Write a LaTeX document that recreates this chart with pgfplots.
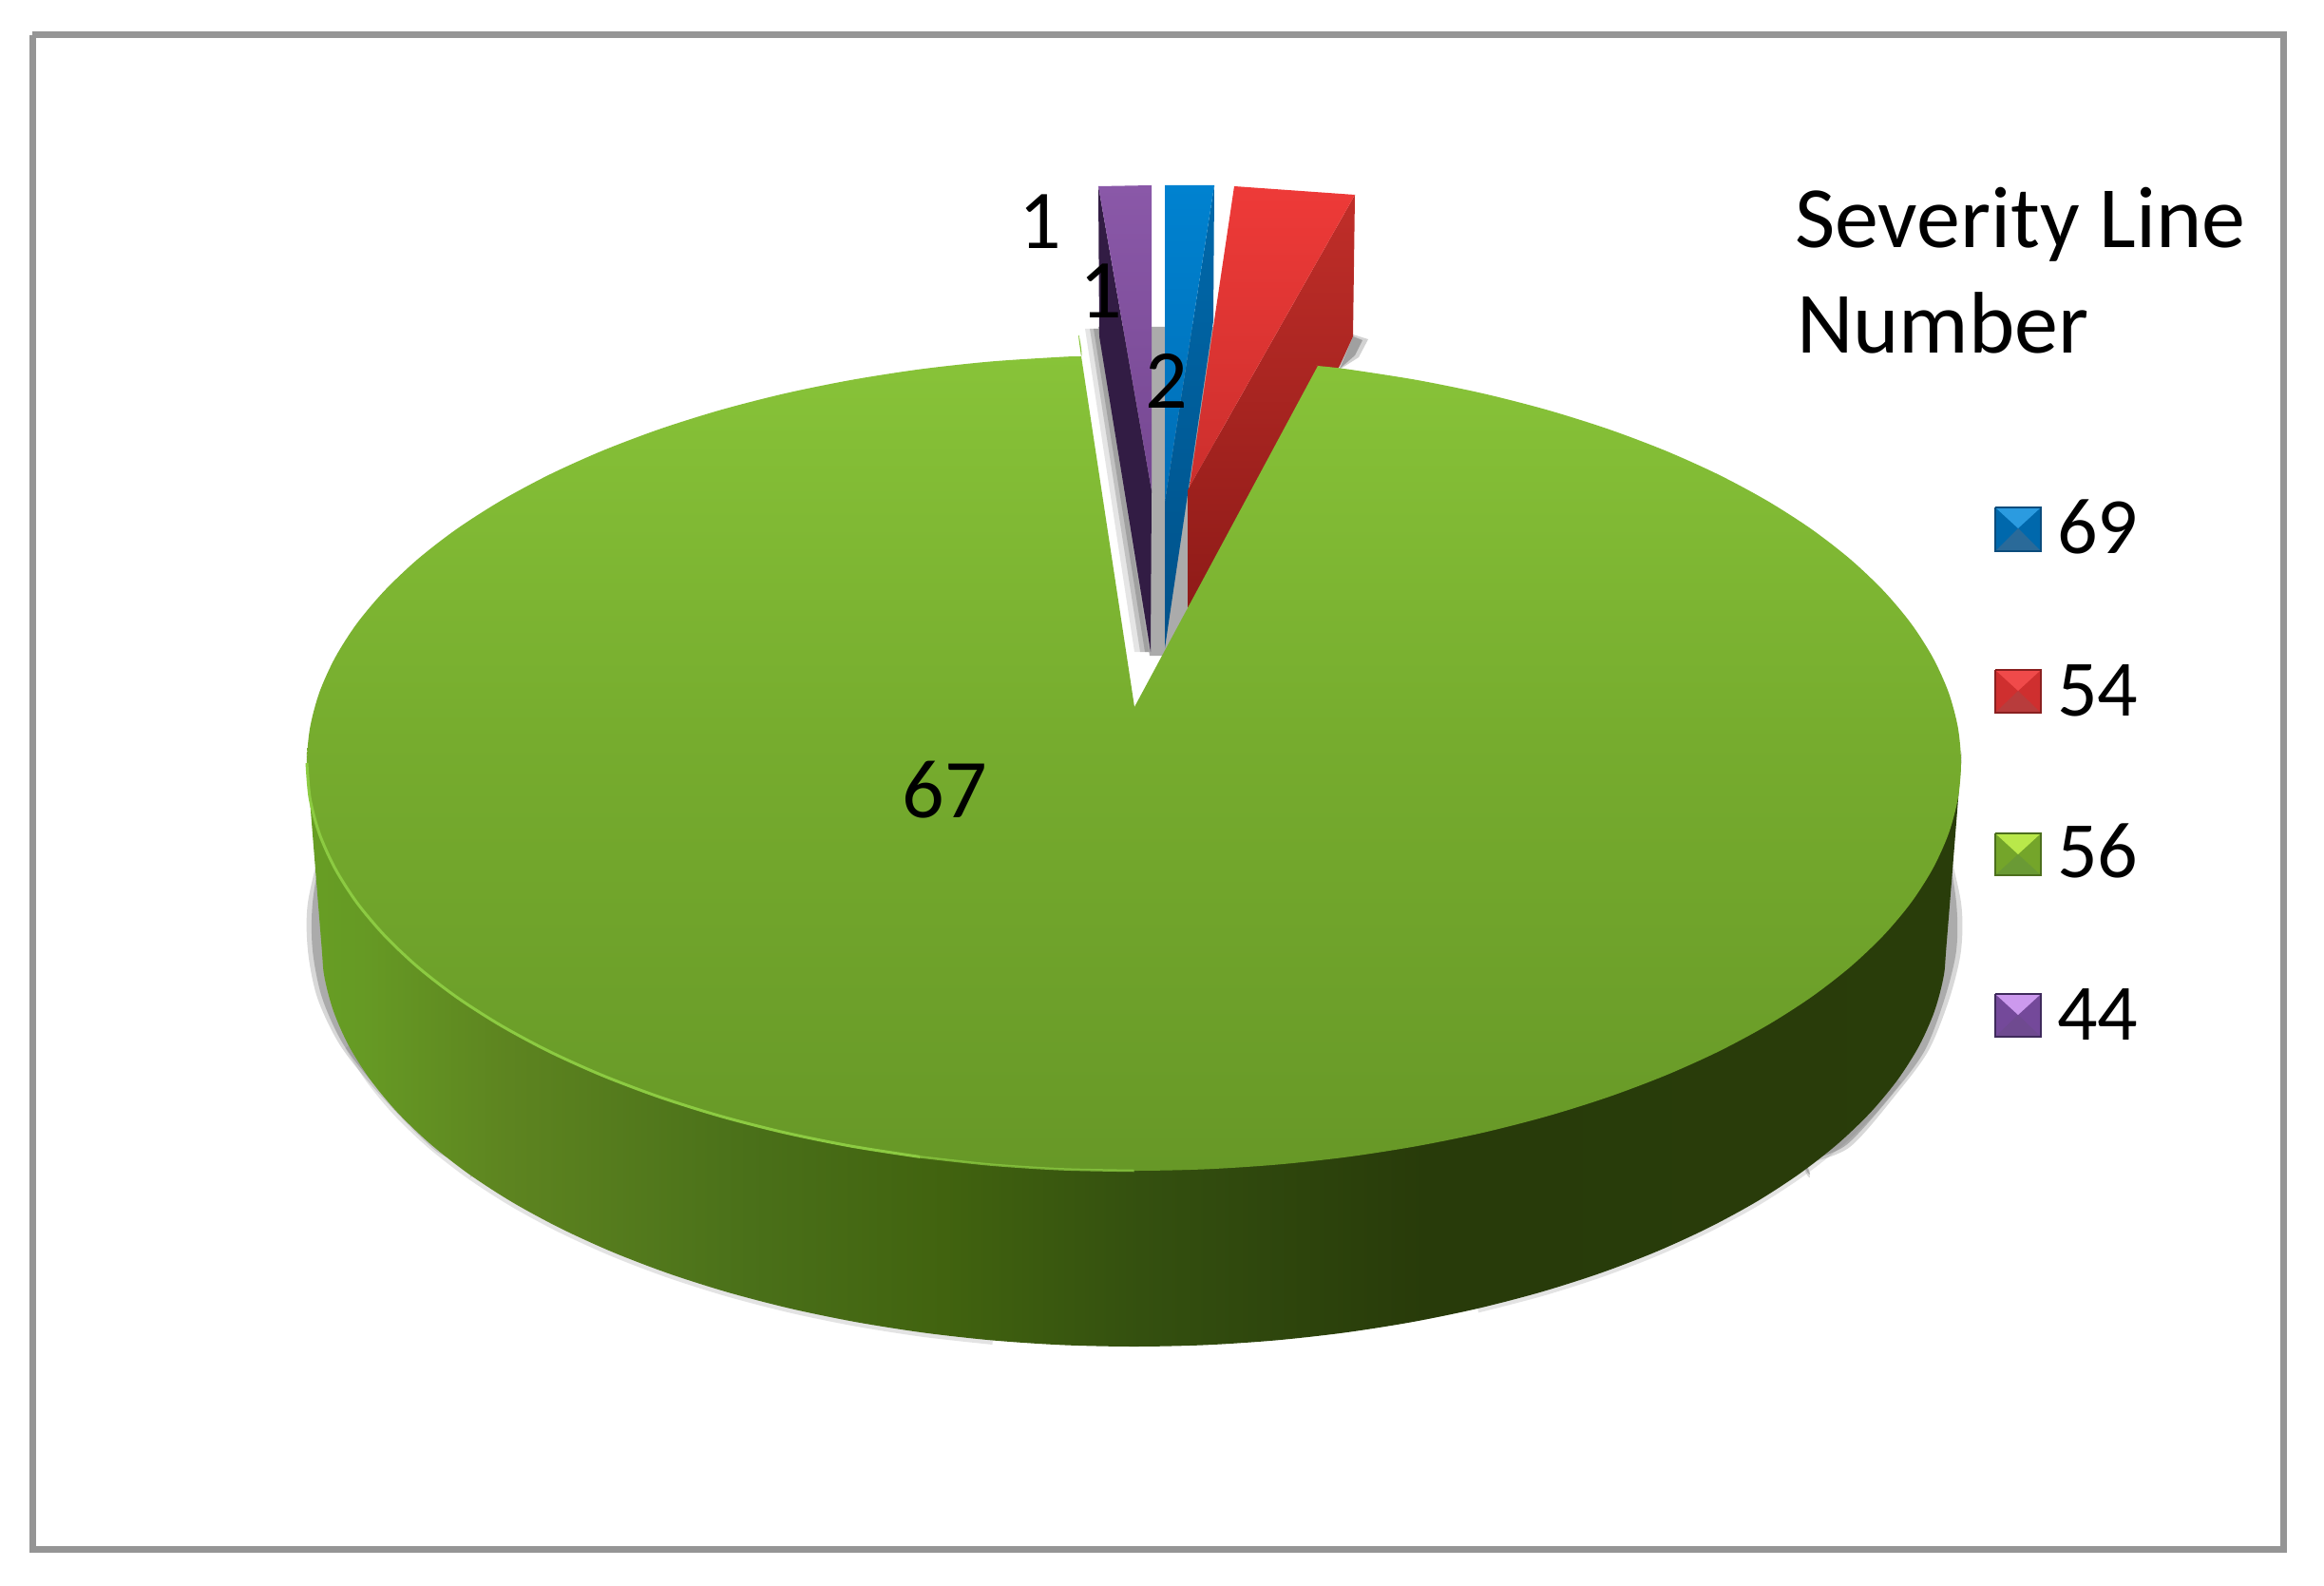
\documentclass[border=0pt]{standalone}
\usepackage{fontspec}
\setmainfont{Carlito}
\usepackage{pgfplots}
\usepackage{pgfplotstable}
\pgfplotsset{compat=1.18}

\definecolor{framegray}{HTML}{959595}
\definecolor{slot}{HTML}{ABABAB}
\definecolor{rim}{HTML}{8CCB42}
\definecolor{blueedge}{HTML}{0B4C7C}\definecolor{blueside}{HTML}{0068AC}\definecolor{bluetop}{HTML}{2B9BE0}\definecolor{bluebot}{HTML}{2A6A99}
\definecolor{rededge}{HTML}{8A2020}\definecolor{redside}{HTML}{CF2F2F}\definecolor{redtop}{HTML}{F04A4A}\definecolor{redbot}{HTML}{B83C3C}
\definecolor{greenedge}{HTML}{4C6F1D}\definecolor{greenside}{HTML}{74A52A}\definecolor{greentop}{HTML}{B9E84A}\definecolor{greenbot}{HTML}{6A9A35}
\definecolor{purpleedge}{HTML}{3F2A5C}\definecolor{purpleside}{HTML}{74499A}\definecolor{purpletop}{HTML}{CC99EE}\definecolor{purplebot}{HTML}{6F4A90}

% side wall of the disc, left to right
\pgfdeclarehorizontalshading{discside}{100bp}{
  rgb(0bp)=(0.404,0.620,0.141);
  rgb(25bp)=(0.404,0.620,0.141);
  rgb(26.7bp)=(0.400,0.604,0.141);
  rgb(31.1bp)=(0.365,0.518,0.125);
  rgb(38.4bp)=(0.290,0.439,0.098);
  rgb(44.3bp)=(0.255,0.388,0.059);
  rgb(50.2bp)=(0.204,0.314,0.059);
  rgb(58.8bp)=(0.157,0.231,0.039);
  rgb(75bp)=(0.161,0.239,0.039);
  rgb(100bp)=(0.161,0.239,0.039)}
\pgfdeclareverticalshading{disctop}{100bp}{
  rgb(0bp)=(0.404,0.596,0.153);
  rgb(25bp)=(0.404,0.596,0.153);
  rgb(50bp)=(0.463,0.675,0.180);
  rgb(75bp)=(0.541,0.776,0.227);
  rgb(100bp)=(0.541,0.776,0.227)}

% repeated points keep the corners sharp under the smooth handler
\pgfplotstableread{
x y
1387 385
1387 385
1418.8 388.6
1491.2 399.9
1561.4 414.2
1628.8 431.5
1692.8 451.6
1753.1 474.4
1809.0 499.6
1860.3 527.2
1906.6 556.9
1947.4 588.5
1982.4 621.7
2011.5 656.3
2034.3 692.0
2050.8 728.5
2060.7 765.6
2064 803
2060.7 840.4
2050.8 877.5
2034.3 914.0
2011.5 949.7
1982.4 984.3
1947.4 1017.5
1906.6 1049.1
1860.3 1078.8
1809.0 1106.4
1753.1 1131.6
1692.8 1154.4
1628.8 1174.5
1561.4 1191.8
1491.2 1206.1
1418.8 1217.4
1344.7 1225.5
1269.4 1230.4
1193.5 1232
1117.6 1230.4
1042.3 1225.5
968.2 1217.4
895.8 1206.1
825.6 1191.8
758.2 1174.5
694.2 1154.4
633.9 1131.6
578.0 1106.4
526.7 1078.8
480.4 1049.1
439.6 1017.5
404.6 984.3
375.5 949.7
352.7 914.0
336.2 877.5
326.3 840.4
323 803
326.3 765.6
336.2 728.5
352.7 692.0
375.5 656.3
404.6 621.7
439.6 588.5
480.4 556.9
526.7 527.2
578.0 499.6
633.9 474.4
694.2 451.6
758.2 431.5
825.6 414.2
895.8 399.9
968.2 388.6
1042.3 380.5
1117.6 375.6
1138 375
1138 375
1194 744
1194 744
}\topface

\pgfplotstableread{
x y
2064 803
2064 803
2049 990
2045.7 1027.2
2036 1064.1
2019.9 1100.5
1997.4 1136
1968.8 1170.5
1934.4 1203.5
1894.3 1234.9
1848.8 1264.5
1798.4 1291.9
1743.4 1317.1
1684.2 1339.8
1621.3 1359.8
1555.1 1377
1486.1 1391.2
1414.9 1402.4
1342.1 1410.5
1268.1 1415.4
1193.5 1417
1118.9 1415.4
1044.9 1410.5
972.1 1402.4
900.9 1391.2
831.9 1377
765.7 1359.8
702.8 1339.8
643.6 1317.1
588.6 1291.9
538.2 1264.5
492.7 1234.9
452.6 1203.5
418.2 1170.5
389.6 1136
367.1 1100.5
351 1064.1
341.3 1027.2
338 990
323 803
323 803
}\sidewall

% legend key: x0 xm x1 y0 ym y1, colour prefix
\newcommand{\legendkey}[7]{%
  \addplot[fill=#7side,draw=none] coordinates {(#1,#4) (#3,#4) (#3,#6) (#1,#6)};
  \addplot[fill=#7top,draw=none] coordinates {(#1,#4) (#3,#4) (#2,#5)};
  \addplot[fill=#7bot,draw=none] coordinates {(#1,#6) (#3,#6) (#2,#5)};
  \addplot[draw=#7edge,line width=2pt,line join=miter] coordinates {(#1,#4) (#3,#4) (#3,#6) (#1,#6) (#1,#4)};
}

\begin{document}
\begin{tikzpicture}
\begin{axis}[
    hide axis, scale only axis,
    width=2446pt, height=1669pt,
    xmin=0, xmax=2446, ymin=0, ymax=1669,
    y dir=reverse,
    every axis plot/.append style={line join=round},
  ]
  % page and frame
  \addplot[fill=white,draw=none] coordinates {(0,0) (2446,0) (2446,1669) (0,1669)};
  \addplot[draw=framegray,line width=7pt,line join=miter] coordinates {(34,37) (2403,37) (2403,1630) (34,1630) (34,37)};

  % soft shadows round the disc
  \addplot[fill=gray,draw=none,opacity=.3,smooth] coordinates {(340,880) (340,880) (324,950) (324,1000) (334,1050) (358,1100) (398,1150) (460,1212) (500,1225) (500,1225) (600,1000) (600,1000)};
  \addplot[fill=gray,draw=none,opacity=.5,smooth] coordinates {(340,880) (340,880) (329,950) (329,1000) (339,1050) (362,1100) (402,1150) (464,1210) (500,1222) (500,1222) (600,1000) (600,1000)};
  \addplot[fill=gray,draw=none,opacity=.3,smooth] coordinates {(2048,880) (2048,880) (2064,950) (2064,1000) (2052,1050) (2030,1105) (1997,1150) (1947,1207) (1900,1225) (1900,1225) (1800,1000) (1800,1000)};
  \addplot[fill=gray,draw=none,opacity=.5,smooth] coordinates {(2048,880) (2048,880) (2059,950) (2059,1000) (2047,1050) (2026,1105) (1993,1150) (1943,1205) (1900,1222) (1900,1222) (1800,1000) (1800,1000)};
  \addplot[smooth,draw=gray,line width=9pt,opacity=.22] coordinates {(367.1,1100.5) (389.6,1136) (418.2,1170.5) (452.6,1203.5) (492.7,1234.9) (538.2,1264.5) (588.6,1291.9) (643.6,1317.1) (702.8,1339.8) (765.7,1359.8) (831.9,1377) (900.9,1391.2) (972.1,1402.4) (1044.9,1410.5)};
  \addplot[smooth,draw=gray,line width=9pt,opacity=.22] coordinates {(1997.4,1136) (1968.8,1170.5) (1934.4,1203.5) (1894.3,1234.9) (1848.8,1264.5) (1798.4,1291.9) (1743.4,1317.1) (1684.2,1339.8) (1621.3,1359.8) (1555.1,1377)};

  % shadows behind the small slices
  \addplot[fill=gray,draw=none,opacity=.2] coordinates {(1142,346) (1160,346) (1212,686) (1194,686)};
  \addplot[fill=gray,draw=none,opacity=.35] coordinates {(1147,346) (1160,346) (1212,686) (1200,686)};
  \addplot[fill=gray,draw=none,opacity=.5] coordinates {(1151,346) (1160,346) (1212,686) (1205,686)};
  \addplot[fill=slot,draw=none] coordinates {(1156,344) (1280,344) (1280,500) (1250,640) (1228,690) (1210,690)};
  \addplot[fill=gray,draw=none,opacity=.35] coordinates {(1424,352) (1440,357) (1430,376) (1408,390)};
  \addplot[fill=gray,draw=none,opacity=.6] coordinates {(1424,354) (1434,358) (1426,374) (1410,388)};

  % purple slice
  \addplot[fill={rgb,255:red,50;green,28;blue,68},draw=none] coordinates {(1156,196) (1212,516) (1211,686) (1157,354)};
  \addplot[top color={rgb,255:red,138;green,88;blue,168},bottom color={rgb,255:red,118;green,72;blue,146},draw=none] coordinates {(1156,196) (1212,195) (1212,516)};

  % blue slice
  \addplot[top color={rgb,255:red,0;green,104;blue,170},bottom color={rgb,255:red,0;green,82;blue,138},draw=none] coordinates {(1278,195) (1226,528) (1226,682) (1277,338)};
  \addplot[top color={rgb,255:red,0;green,130;blue,208},bottom color={rgb,255:red,0;green,110;blue,182},draw=none] coordinates {(1226,195) (1278,195) (1226,528)};

  % red slice
  \addplot[top color={rgb,255:red,192;green,46;blue,41},bottom color={rgb,255:red,143;green,27;blue,24},draw=none] coordinates {(1426,205) (1424,354) (1410,385) (1250,640) (1250,516) (1252,512)};
  \addplot[top color={rgb,255:red,238;green,58;blue,56},bottom color={rgb,255:red,204;green,47;blue,45},draw=none] coordinates {(1299,196) (1426,205) (1252,512)};

  % green slice
  \addplot[smooth,shade,shading=discside,draw=none] table {\sidewall};
  \addplot[smooth,shade,shading=disctop,draw=none] table {\topface};
  \addplot[smooth,draw=rim,line width=3pt] coordinates {(323,803) (326.3,840.4) (336.2,877.5) (352.7,914.0) (375.5,949.7) (404.6,984.3) (439.6,1017.5) (480.4,1049.1) (526.7,1078.8) (578.0,1106.4) (633.9,1131.6) (694.2,1154.4) (758.2,1174.5) (825.6,1191.8) (895.8,1206.1) (968.2,1217.4)};
  \addplot[smooth,draw=rim,line width=2.5pt,opacity=.75] coordinates {(968.2,1217.4) (1042.3,1225.5) (1117.6,1230.4) (1193.5,1232)};

  % value labels
  \node[anchor=base,inner sep=0pt,font=\fontsize{88}{88}\selectfont] at (axis cs:1095,262) {1};
  \node[anchor=base,inner sep=0pt,font=\fontsize{88}{88}\selectfont] at (axis cs:1159,335) {1};
  \node[anchor=base,inner sep=0pt,font=\fontsize{88}{88}\selectfont] at (axis cs:1228,429) {2};
  \node[anchor=base,inner sep=0pt,font=\fontsize{88}{88}\selectfont] at (axis cs:994,860) {67};

  % legend title
  \node[anchor=base west,inner sep=0pt,font=\fontsize{92}{92}\selectfont] at (axis cs:1889,261) {Severity Line};
  \node[anchor=base west,inner sep=0pt,font=\fontsize{92}{92}\selectfont] at (axis cs:1891,371) {Number};

  % legend
  \legendkey{2100}{2124}{2148}{534}{556}{580}{blue}
  \legendkey{2100}{2124}{2148}{705}{727}{750}{red}
  \legendkey{2100}{2124}{2148}{877}{899}{921}{green}
  \legendkey{2100}{2124}{2148}{1046}{1068}{1091}{purple}
  \node[anchor=base west,inner sep=0pt,font=\fontsize{84}{84}\selectfont] at (axis cs:2165,582) {69};
  \node[anchor=base west,inner sep=0pt,font=\fontsize{84}{84}\selectfont] at (axis cs:2165,753) {54};
  \node[anchor=base west,inner sep=0pt,font=\fontsize{84}{84}\selectfont] at (axis cs:2165,923) {56};
  \node[anchor=base west,inner sep=0pt,font=\fontsize{84}{84}\selectfont] at (axis cs:2165,1094) {44};
\end{axis}
\end{tikzpicture}
\end{document}
